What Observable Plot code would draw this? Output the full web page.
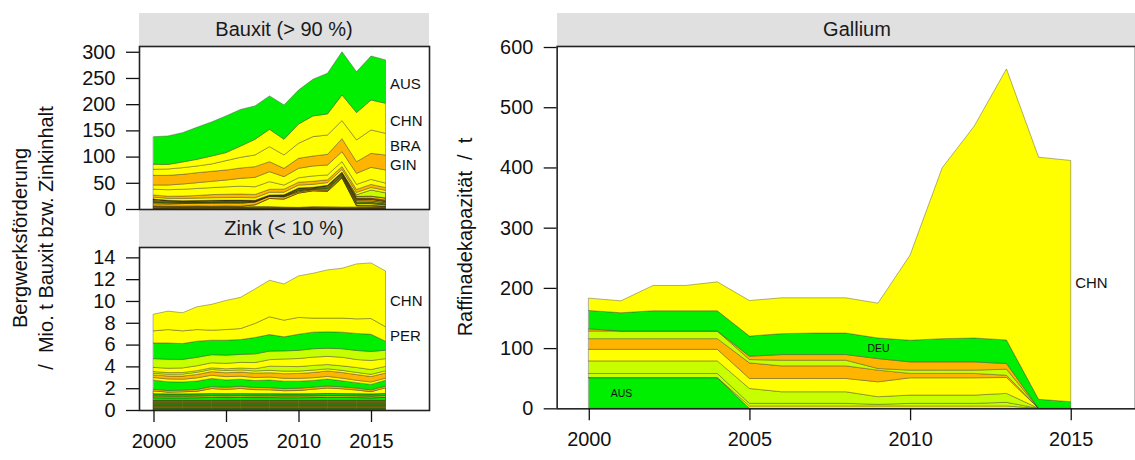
<!DOCTYPE html>
<html><head><meta charset="utf-8">
<script src="https://cdn.jsdelivr.net/npm/d3@7"></script>
<script src="https://cdn.jsdelivr.net/npm/@observablehq/plot@0.6"></script>
<style>
html,body{margin:0;padding:0;background:#fff;}
#root{position:relative;width:1135px;height:460px;overflow:hidden;font-family:"Liberation Sans",Arial,sans-serif;color:#1a1a1a;}
.strip{position:absolute;background:#e0e0e0;font-size:20px;display:flex;align-items:center;justify-content:center;color:#1a1a1a;}
.panel{position:absolute;}
.panel svg{overflow:visible;}
</style></head><body><div id="root"></div>
<script>
// ---------------- DATA ----------------
const yearsMine = [2000,2001,2002,2003,2004,2005,2006,2007,2008,2009,2010,2011,2012,2013,2014,2015,2016];
const yearsGallium = [2000,2001,2002,2003,2004,2005,2006,2007,2008,2009,2010,2011,2012,2013,2014,2015];

// Bauxit, Mio. t (stack order bottom -> top)
const bauxitCountries = ["GRC","TUR","GUY","IDN","VEN","SUR","HUN","SLE","BIH","GHA","VNM","SAU","MYS","KAZ","RUS","JAM","IND","GIN","BRA","CHN","AUS"];
const bauxitSmall = ["GRC","TUR","GUY","IDN","VEN","SUR","HUN","SLE","BIH","GHA","VNM","SAU","MYS"];
const bauxit_GRC = [1.2,1.3,1.4,1.4,1.4,1.5,1.3,1.3,1.3,1.1,1.1,1.4,1.1,1.1,1.1,1.1,1.1];
const bauxit_TUR = [0.8,0.8,1.0,1.0,1.0,1.0,0.9,0.9,0.9,0.8,0.8,0.9,0.7,0.7,0.8,0.7,0.7];
const bauxit_GUY = [2.5,1.9,1.5,1.8,1.5,1.7,1.5,2.2,2.1,1.5,1.1,1.8,2.2,1.7,1.6,1.5,1.5];
const bauxit_IDN = [1.2,1.2,1.3,1.3,1.3,1.4,1.5,3.6,15.8,15.5,27.3,30.6,29.5,55.7,2.5,2.4,1.3];
const bauxit_VEN = [4.4,4.6,5.2,5.4,5.8,5.9,5.9,5.3,4.2,4.3,2.5,2.4,2.3,2.1,1.5,1.2,1];
const bauxit_SUR = [2.4,1.8,1.3,1.4,1.5,1.4,1.5,0.7,0.5,0.8,2.0,1.2,2.4,2.1,3.2,3.3,2.4];
const bauxit_HUN = [1.8,1.3,1.0,1.0,1.2,1.0,1.1,0.6,0.4,0.7,1.5,0.9,1.9,1.6,2.4,2.5,1.9];
const bauxit_SLE = [2.0,1.5,1.1,1.1,1.3,1.2,1.2,0.6,0.4,0.7,1.7,1.0,2.0,1.7,2.7,2.8,2.1];
const bauxit_BIH = [2.2,1.6,1.2,1.2,1.3,1.2,1.3,0.6,0.4,0.8,1.8,1.0,2.2,1.9,2.8,3.0,2.2];
const bauxit_GHA = [0.5,0.7,0.7,0.5,0.5,0.7,0.9,0.8,0.8,0.8,0.5,0.4,0.4,0.8,0.8,0.8,1.1];
const bauxit_VNM = [0,0,0,0,0,0,0,0,0,0,0,0,0,0.1,1,1.1,1.5];
const bauxit_SAU = [0,0,0,0,0,0,0,0,0,0,0,0,0.5,1,3.5,4,4.2];
const bauxit_MYS = [0,0,0,0,0,0,0,0,0,0,0,0,0,0,3.3,12,10];
const bauxit_KAZ = [3.7,3.7,4.4,4.7,4.7,4.8,4.9,4.8,5.1,5.1,5.3,5.5,5.2,5.2,4.5,4.7,4.6];
const bauxit_RUS = [4,4,4.5,5,6,6.4,6.6,6.4,5.7,5.8,5.5,5.8,5.3,5.3,5.6,5.8,5.4];
const bauxit_JAM = [11.1,12.4,13.1,13.4,13.3,14.1,14.9,14.6,14.6,7.8,8.5,10.2,9.3,9.4,9.7,9.6,8.5];
const bauxit_IND = [8,9,10,11,12,13,15,18,19,16,18,19,19,19,21,23,25];
const bauxit_GIN = [18.4,18.4,18.4,19.1,19,19.1,19.7,20.4,19.1,15.9,19.1,19,20.3,24.8,22.3,26.7,28.6];
const bauxit_BRA = [11.5,12.2,12.8,12.8,14.1,17.9,20.4,22.3,28.7,25.5,28.7,37,37,34.4,41.4,44.6,41.4];
const bauxit_CHN = [9.6,8.6,10.8,12.7,15.1,15.3,21.4,29.9,33,29.9,36.6,39.5,40.1,49.1,52.3,57.2,57.3];
const bauxit_AUS = [52.7,54.4,56,61.2,65,70,70,63.7,63.8,65.6,65,70,77.6,82.3,78,84,82.7];

// Zink, Mio. t Zinkinhalt (bottom -> top)
const zinkCountries = ["ZAF","MAR","NAM","BRA","IRN","POL","RUS","PRK","TUR","ESP","MNG","VNM","ERI","PRT","SWE","CAN","IRL","MEX","KAZ","BOL","IND","USA","AUS","PER","CHN"];
const zinkSmall = ["ZAF","MAR","NAM","BRA","IRN","POL","RUS","PRK","TUR","ESP","MNG","VNM","ERI","PRT"];
const zink_ZAF = [0.06,0.06,0.06,0.06,0.06,0.06,0.06,0.06,0.06,0.06,0.06,0.06,0.06,0.06,0.06,0.06,0.06];
const zink_MAR = [0.08,0.08,0.08,0.08,0.08,0.08,0.08,0.08,0.08,0.08,0.08,0.08,0.08,0.08,0.08,0.08,0.08];
const zink_NAM = [0.10,0.10,0.10,0.10,0.10,0.10,0.10,0.10,0.10,0.10,0.10,0.10,0.10,0.10,0.10,0.10,0.10];
const zink_BRA = [0.08,0.08,0.08,0.08,0.08,0.08,0.08,0.08,0.08,0.08,0.08,0.08,0.08,0.08,0.08,0.08,0.08];
const zink_IRN = [0.10,0.10,0.10,0.10,0.10,0.10,0.10,0.10,0.10,0.10,0.10,0.10,0.10,0.10,0.10,0.10,0.10];
const zink_POL = [0.07,0.07,0.07,0.07,0.07,0.07,0.07,0.07,0.07,0.07,0.07,0.07,0.07,0.07,0.07,0.07,0.07];
const zink_RUS = [0.12,0.12,0.12,0.12,0.12,0.12,0.12,0.12,0.12,0.12,0.12,0.12,0.12,0.12,0.12,0.12,0.12];
const zink_PRK = [0.09,0.09,0.09,0.09,0.09,0.09,0.09,0.09,0.09,0.09,0.09,0.09,0.09,0.09,0.09,0.09,0.09];
const zink_TUR = [0.10,0.10,0.10,0.10,0.10,0.10,0.10,0.10,0.10,0.10,0.10,0.10,0.10,0.10,0.10,0.10,0.10];
const zink_ESP = [0.08,0.08,0.08,0.08,0.08,0.08,0.08,0.08,0.08,0.08,0.08,0.08,0.08,0.08,0.08,0.08,0.08];
const zink_MNG = [0.25,0.24,0.24,0.25,0.27,0.26,0.27,0.26,0.26,0.25,0.25,0.26,0.28,0.27,0.26,0.24,0.28];
const zink_VNM = [0.15,0.15,0.15,0.15,0.15,0.15,0.15,0.15,0.15,0.15,0.15,0.15,0.15,0.15,0.15,0.15,0.15];
const zink_ERI = [0.20,0.20,0.20,0.20,0.20,0.20,0.20,0.20,0.20,0.20,0.20,0.20,0.20,0.20,0.20,0.20,0.20];
const zink_PRT = [0.27,0.17,0.20,0.24,0.47,0.40,0.48,0.38,0.37,0.29,0.31,0.42,0.51,0.45,0.35,0.21,0.53];
const zink_SWE = [0.15,0.15,0.15,0.17,0.18,0.2,0.2,0.2,0.19,0.19,0.2,0.19,0.18,0.18,0.17,0.17,0.16];
const zink_CAN = [0.84,0.80,0.75,0.76,0.74,0.67,0.64,0.63,0.70,0.68,0.65,0.61,0.64,0.55,0.50,0.50,0.53];
const zink_IRL = [0.24,0.26,0.25,0.30,0.30,0.30,0.28,0.28,0.27,0.27,0.26,0.25,0.24,0.24,0.22,0.22,0.2];
const zink_MEX = [0.24,0.27,0.29,0.31,0.33,0.36,0.38,0.40,0.40,0.42,0.45,0.48,0.50,0.52,0.52,0.50,0.46];
const zink_KAZ = [0.15,0.16,0.18,0.2,0.2,0.2,0.2,0.2,0.22,0.24,0.22,0.22,0.2,0.2,0.2,0.2,0.21];
const zink_BOL = [0.16,0.15,0.15,0.15,0.15,0.16,0.17,0.21,0.38,0.43,0.41,0.43,0.39,0.41,0.45,0.44,0.40];
const zink_IND = [0.38,0.40,0.42,0.45,0.46,0.50,0.52,0.56,0.60,0.68,0.74,0.76,0.75,0.79,0.73,0.83,0.71];
const zink_USA = [0.80,0.82,0.78,0.77,0.74,0.75,0.73,0.80,0.78,0.74,0.75,0.77,0.74,0.78,0.83,0.83,0.77];
const zink_AUS = [1.44,1.50,1.45,1.48,1.33,1.37,1.36,1.50,1.52,1.29,1.48,1.52,1.51,1.52,1.56,1.58,0.83];
const zink_PER = [1.11,1.23,1.17,1.07,0.92,0.98,1.01,1.29,1.63,1.53,1.54,1.29,1.26,1.29,1.34,1.44,1.32];
const zink_CHN = [1.53,1.69,1.66,2.09,2.37,2.67,2.86,3.16,3.35,3.32,3.81,4.11,4.42,4.57,5.04,5.10,5.12];

// Gallium, Raffinadekapazität t (bottom -> top)
const galliumCountries = ["AUS","JPN","KOR","HUN","KAZ","RUS","SVK","UKR","DEU","CHN"];
const galliumSmall = [];
const gallium_AUS = [51,51,51,51,51,0,0,0,0,0,0,0,0,0,0,0];
const gallium_JPN = [0,0,0,0,0,3.9,3.9,3.9,3.9,3.9,3.9,3.9,3.9,3.9,0,0];
const gallium_KOR = [6.9,6.9,6.9,6.9,6.9,4.4,4.4,4.4,4.4,2.7,4.4,4.4,4.4,6,0,0];
const gallium_HUN = [20.9,20.9,20.9,20.9,20.9,24.7,19.2,19.2,19.2,12.7,13.7,13.7,13.7,14.9,0,0];
const gallium_KAZ = [19.2,19.2,19.2,19.2,19.2,16.6,22.1,22.1,22.1,24.7,28.7,28.7,28.7,26.4,0,0];
const gallium_RUS = [17.7,17.7,17.7,17.7,17.7,25.9,20.9,20.9,20.9,19.4,7.3,7.3,7.3,3.8,0,0];
const gallium_SVK = [12.7,12.7,12.7,12.7,12.7,5.5,9.4,9.4,9.4,2.7,5.4,5.4,5.4,10,0,0];
const gallium_UKR = [3.6,0,0,0,0,5.5,9.4,9.4,9.4,16.5,13.7,13.7,13.7,9.4,0,0];
const gallium_DEU = [30.5,30.3,33.6,33.6,33.6,33.5,34.7,35.7,35.7,34.2,35.9,38.6,39.7,39.1,15,11];
const gallium_CHN = [20.5,19.8,42,42,48,59,59.5,58.5,58.5,57.9,141.5,283.8,352.2,450.1,402,400.6];

// tick labels
const bauxitTicks = [0,50,100,150,200,250,300];
const zinkTicks = [0,2,4,6,8,10,12,14];
const galliumTicks = [0,100,200,300,400,500,600];
const yearTicks = [2000,2005,2010,2015];

// ---------------- STYLE ----------------
const GREEN = "#00ee00", YELLOW = "#ffff00", ORANGE = "#ffb400", LIME = "#c8ff00";
const bauxitColors = {GRC:LIME,TUR:ORANGE,GUY:GREEN,IDN:YELLOW,VEN:ORANGE,SUR:YELLOW,HUN:GREEN,SLE:LIME,BIH:ORANGE,GHA:GREEN,VNM:YELLOW,SAU:ORANGE,MYS:LIME,KAZ:YELLOW,RUS:ORANGE,JAM:YELLOW,IND:YELLOW,GIN:ORANGE,BRA:YELLOW,CHN:YELLOW,AUS:GREEN};
const zinkColors = {ZAF:ORANGE,MAR:YELLOW,NAM:GREEN,BRA:LIME,IRN:YELLOW,POL:ORANGE,RUS:GREEN,PRK:YELLOW,TUR:LIME,ESP:ORANGE,MNG:GREEN,VNM:YELLOW,ERI:GREEN,PRT:YELLOW,SWE:ORANGE,CAN:GREEN,IRL:YELLOW,MEX:ORANGE,KAZ:YELLOW,BOL:LIME,IND:YELLOW,USA:LIME,AUS:GREEN,PER:YELLOW,CHN:YELLOW};
const galliumColors = {AUS:GREEN,JPN:YELLOW,KOR:LIME,HUN:LIME,KAZ:YELLOW,RUS:ORANGE,SVK:LIME,UKR:ORANGE,DEU:GREEN,CHN:YELLOW};

const bauxitSeries = {GRC:bauxit_GRC,TUR:bauxit_TUR,GUY:bauxit_GUY,IDN:bauxit_IDN,VEN:bauxit_VEN,SUR:bauxit_SUR,HUN:bauxit_HUN,SLE:bauxit_SLE,BIH:bauxit_BIH,GHA:bauxit_GHA,VNM:bauxit_VNM,SAU:bauxit_SAU,MYS:bauxit_MYS,KAZ:bauxit_KAZ,RUS:bauxit_RUS,JAM:bauxit_JAM,IND:bauxit_IND,GIN:bauxit_GIN,BRA:bauxit_BRA,CHN:bauxit_CHN,AUS:bauxit_AUS};
const zinkSeries = {ZAF:zink_ZAF,MAR:zink_MAR,NAM:zink_NAM,BRA:zink_BRA,IRN:zink_IRN,POL:zink_POL,RUS:zink_RUS,PRK:zink_PRK,TUR:zink_TUR,ESP:zink_ESP,MNG:zink_MNG,VNM:zink_VNM,ERI:zink_ERI,PRT:zink_PRT,SWE:zink_SWE,CAN:zink_CAN,IRL:zink_IRL,MEX:zink_MEX,KAZ:zink_KAZ,BOL:zink_BOL,IND:zink_IND,USA:zink_USA,AUS:zink_AUS,PER:zink_PER,CHN:zink_CHN};
const galliumSeries = {AUS:gallium_AUS,JPN:gallium_JPN,KOR:gallium_KOR,HUN:gallium_HUN,KAZ:gallium_KAZ,RUS:gallium_RUS,SVK:gallium_SVK,UKR:gallium_UKR,DEU:gallium_DEU,CHN:gallium_CHN};

const FONT = "'Liberation Sans', Arial, sans-serif";

// cumulative stacking of the layers (bottom -> top)
function stackRows(countries, series, years, colors, small) {
  const rows = [];
  years.forEach((year, i) => {
    let base = 0;
    for (const c of countries) {
      const v = series[c][i];
      rows.push({year, lo: base, hi: base + v, name: c, color: colors[c], small: small.includes(c)});
      base += v;
    }
  });
  return rows;
}
function labelRows(rows, specs) {
  return specs.map(s => {
    const r = rows.find(d => d.name === s.name && d.year === s.year);
    return {year: s.year, mid: (r.lo + r.hi) / 2, name: s.name};
  });
}

function panel(o) {
  const rows = stackRows(o.countries, o.series, o.years, o.colors, o.small);
  const marks = [
    Plot.areaY(rows.filter(d => d.small), {x: "year", y1: "lo", y2: "hi", z: "name", fill: "color", stroke: "#3a2a0a", strokeWidth: 0.7, strokeOpacity: 0.9}),
    Plot.areaY(rows.filter(d => !d.small), {x: "year", y1: "lo", y2: "hi", z: "name", fill: "color", stroke: "#3a3a2a", strokeWidth: 0.5, strokeOpacity: 0.8}),
    Plot.text(labelRows(rows, o.labels), {x: "year", y: "mid", text: "name", textAnchor: "start", dx: 4, dy: 2, fontSize: 15, fill: "#111"}),
    Plot.axisY({ticks: o.yTicks, tickSize: 13, tickPadding: 11, label: null, fontSize: 20, strokeWidth: 1.3, stroke: "#111", fill: "#111"}),
    Plot.frame({stroke: "#222", strokeWidth: 1.6})
  ];
  if (o.innerLabels) marks.push(Plot.text(labelRows(rows, o.innerLabels), {x: "year", y: "mid", text: "name", textAnchor: "middle", fontSize: 10.5, fill: "#111"}));
  if (o.xAxis) marks.push(Plot.axisX({ticks: yearTicks, tickFormat: d => String(d), tickSize: 12, tickPadding: 11, label: null, fontSize: 20, strokeWidth: 1.3, stroke: "#111", fill: "#111"}));
  const svg = Plot.plot({
    width: o.width, height: o.height,
    marginLeft: o.ml, marginRight: o.mr, marginTop: o.mt, marginBottom: o.mb,
    x: {domain: o.xDomain, axis: null},
    y: {domain: o.yDomain, axis: null},
    color: {type: "identity"},
    style: {fontFamily: FONT, fontSize: "20px", background: "transparent", color: "#111"},
    marks
  });
  const d = document.createElement("div");
  d.className = "panel";
  d.style.left = o.left + "px"; d.style.top = o.top + "px";
  d.appendChild(svg);
  return d;
}

const root = document.getElementById("root");
function strip(text, left, top, width, height) {
  const s = document.createElement("div");
  s.className = "strip";
  Object.assign(s.style, {left: left + "px", top: top + "px", width: width + "px", height: height + "px"});
  s.textContent = text;
  root.appendChild(s);
}

strip("Bauxit (> 90 %)", 139, 13, 290, 33);
strip("Zink (< 10 %)", 139, 210, 290, 37);
strip("Gallium", 557, 13, 600, 33);

root.appendChild(panel({
  countries: bauxitCountries, series: bauxitSeries, years: yearsMine, colors: bauxitColors, small: bauxitSmall,
  labels: [{name:"AUS",year:2016},{name:"CHN",year:2016},{name:"BRA",year:2016},{name:"GIN",year:2016}],
  yTicks: bauxitTicks, xDomain: [1999, 2019], yDomain: [0, 311],
  left: 0, top: 44, width: 440, height: 167, ml: 139, mr: 11, mt: 2, mb: 2, xAxis: false
}));
root.appendChild(panel({
  countries: zinkCountries, series: zinkSeries, years: yearsMine, colors: zinkColors, small: zinkSmall,
  labels: [{name:"CHN",year:2016},{name:"PER",year:2016}],
  yTicks: zinkTicks, xDomain: [1999, 2019], yDomain: [0, 14.95],
  left: 0, top: 245, width: 440, height: 213, ml: 139, mr: 11, mt: 2, mb: 48, xAxis: true
}));
root.appendChild(panel({
  countries: galliumCountries, series: galliumSeries, years: yearsGallium, colors: galliumColors, small: galliumSmall,
  labels: [{name:"CHN",year:2015}],
  innerLabels: [{name:"DEU",year:2009},{name:"AUS",year:2001}],
  yTicks: galliumTicks, xDomain: [1999, 2017], yDomain: [0, 601.7],
  left: 480, top: 44, width: 658, height: 414, ml: 77, mr: 0, mt: 2, mb: 48, xAxis: true
}));

// axis titles
const NS = "http://www.w3.org/2000/svg";
const t = document.createElementNS(NS, "svg");
t.setAttribute("width", 1135); t.setAttribute("height", 460);
t.style.position = "absolute"; t.style.left = "0px"; t.style.top = "0px"; t.style.pointerEvents = "none";
function vtext(str, x, y) {
  const e = document.createElementNS(NS, "text");
  e.setAttribute("transform", `translate(${x},${y}) rotate(-90)`);
  e.setAttribute("text-anchor", "middle");
  e.setAttribute("font-family", FONT);
  e.setAttribute("font-size", "20");
  e.setAttribute("fill", "#111");
  e.style.whiteSpace = "pre";
  e.textContent = str;
  t.appendChild(e);
}
vtext("Bergwerksförderung", 27, 238);
vtext("/  Mio. t Bauxit bzw. Zinkinhalt", 53, 238);
vtext("Raffinadekapazität  /  t", 472, 237);
root.appendChild(t);
</script></body></html>
